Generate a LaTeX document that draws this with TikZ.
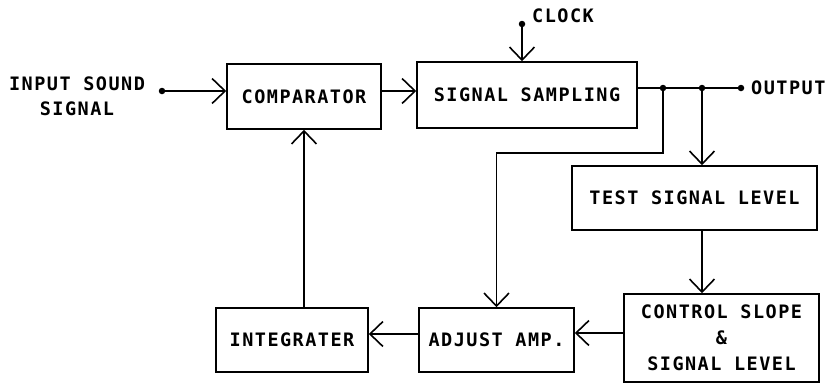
\documentclass[tikz,border=0pt]{standalone}
\usepackage{fontspec}
\setmonofont{DejaVu Sans Mono}[LetterSpace=8]
\usepackage{tikz}
\usetikzlibrary{positioning,arrows.meta}
\newcommand{\lbl}{\ttfamily\bfseries\fontsize{18.5}{25}\selectfont}

\begin{document}
\begin{tikzpicture}[x=1pt, y=-1pt,
  box/.style={draw, line width=1.6pt, inner sep=0pt, align=center, font=\lbl},
  txt/.style={inner sep=0pt, align=center, font=\lbl},
  dot/.style={circle, fill, inner sep=0pt, minimum size=6.5pt},
  arrow/.style={-{Straight Barb[length=13pt, width=25pt]}, line width=1.6pt}
]
  \useasboundingbox (0,0) rectangle (830,384);

  % Blocos
  \node[box, minimum width=154pt, minimum height=65pt] (comp)  at (304, 96.5) {COMPARATOR};
  \node[box, minimum width=220pt, minimum height=66pt] (samp)  at (527, 95)   {SIGNAL SAMPLING};
  \node[box, minimum width=245pt, minimum height=64pt] (test)  at (694.5, 198) {TEST SIGNAL LEVEL};
  \node[box, minimum width=195pt, minimum height=88pt] (ctrl)  at (721.5, 338) {CONTROL SLOPE\\[1pt]\&\\[1pt]SIGNAL LEVEL};
  \node[box, minimum width=155pt, minimum height=64pt] (adj)   at (496.5, 340) {ADJUST AMP.};
  \node[box, minimum width=152pt, minimum height=64pt] (integ) at (292, 340)   {INTEGRATER};

  % Terminais e junções
  \node[dot] (in)  at (162, 91) {};
  \node[dot] (clk) at (522, 24) {};
  \node[dot] (j1)  at (663, 88) {};
  \node[dot] (j2)  at (702, 88) {};
  \node[dot] (out) at (741, 88) {};

  % Textos
  \node[txt] (inlbl)  at (77, 96) {INPUT SOUND\\SIGNAL};
  \node[txt, anchor=west] (clklbl) at (532, 16) {CLOCK};
  \node[txt, anchor=west] (outlbl) at (751, 88) {OUTPUT};

  % Caminho direto
  \draw[arrow] (in) -- (comp.west |- in);
  \draw[arrow] (comp.east |- in) -- (samp.west |- in);
  \draw[arrow] (clk) -- (samp.north -| clk);
  \draw[line width=1.6pt] (samp.east |- j1) -- (out);

  % Realimentação
  \draw[arrow] (j2) -- (test.north -| j2);
  \draw[arrow] (test.south -| j2) -- (ctrl.north -| j2);
  \draw[arrow] (j1) -- ++(0, 65) -| (adj.north);
  \draw[arrow] ([yshift=5pt]ctrl.west) coordinate (c1) -- (c1 -| adj.east);
  \draw[arrow] ([yshift=6pt]adj.west) -- ([yshift=6pt]integ.east);
  \draw[arrow] (integ.north -| comp.south) -- (comp.south);
\end{tikzpicture}
\end{document}
